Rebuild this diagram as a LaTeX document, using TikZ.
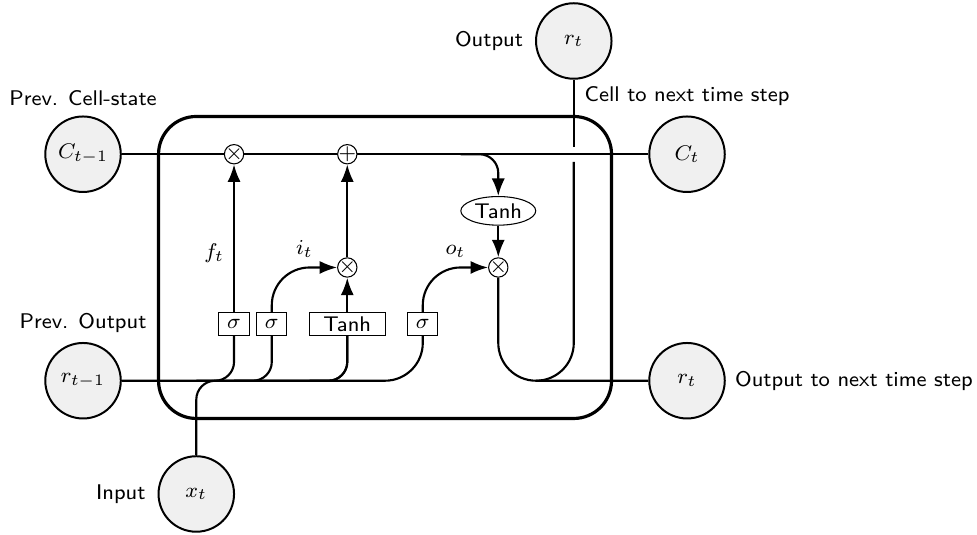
\documentclass[tikz,border=0pt]{standalone}
\usepackage{amsmath,amssymb}
\usepackage{xcolor}
\usepackage{tikz}
\usetikzlibrary{arrows.meta,positioning,shapes.geometric,calc}

\begin{document}
\begin{tikzpicture}[
  font=\footnotesize\sffamily,
  cellbox/.style={rectangle, draw, very thick, rounded corners=5mm,
                  minimum width=6cm, minimum height=4cm},
  gatebox/.style={rectangle, draw, minimum width=4mm, minimum height=3mm, inner sep=1pt},
  opnode/.style={circle, draw, inner sep=-0.5pt, minimum height=0.2cm},
  funcnode/.style={ellipse, draw, inner sep=1pt},
  statenode/.style={circle, draw, line width=0.75pt, fill=gray!12,
                    minimum width=1cm, inner sep=1pt},
  annot/.style={font=\footnotesize\sffamily},
  wire/.style={thick, rounded corners=0.25cm},
  wirebig/.style={thick, rounded corners=0.5cm},
  arr/.style={-{Latex}},
]
\useasboundingbox (-5.1,-3.543) rectangle (7.841,3.543);

% The cell
\node[cellbox] (cell) at (0,0) {};

% Gates
\node[gatebox] (sg1) at (-2,-0.75) {$\sigma$};
\node[gatebox] (sg2) at (-1.5,-0.75) {$\sigma$};
\node[gatebox, minimum width=1cm] (tanh1) at (-0.5,-0.75) {Tanh};
\node[gatebox] (sg4) at (0.5,-0.75) {$\sigma$};

% Operators
\node[opnode] (mux1) at (-2,1.5) {$\times$};
\node[opnode] (add1) at (-0.5,1.5) {$+$};
\node[opnode] (mux2) at (-0.5,0) {$\times$};
\node[opnode] (mux3) at (1.5,0) {$\times$};
\node[funcnode] (tanh2) at (1.5,0.75) {Tanh};

% Inputs and outputs
\node[statenode] (cprev) at (-4,1.5) {$C_{t-1}$};
\node[statenode] (rprev) at (-4,-1.5) {$r_{t-1}$};
\node[statenode] (xin) at (-2.5,-3) {$x_t$};
\node[statenode] (cnext) at (4,1.5) {$C_t$};
\node[statenode] (rnext) at (4,-1.5) {$r_t$};
\node[statenode] (rout) at (2.5,3) {$r_t$};

% Annotations
\node[annot, above=0pt of cprev] (lcprev) {Prev. Cell-state};
\node[annot, above=0pt of rprev] (lrprev) {Prev. Output};
\node[annot, left=1pt of xin] (lxin) {Input};
\node[annot, left=1pt of rout] (lrout) {Output};
\node[annot, above=0pt of cnext] (lcnext) {Cell to next time step};
\node[annot, right=0pt of rnext] (lrnext) {Output to next time step};

% Cell state line
\draw[wire] (cprev) -- (mux1) -- (add1) -- (cnext);

% Previous output and input
\draw[wirebig] (rprev) -| (sg4);
\draw[wire] ([xshift=-0.5cm]rprev -| sg1) -| (sg1);
\draw[wire] ([xshift=-0.5cm]rprev -| sg2) -| (sg2);
\draw[wire] ([xshift=-0.5cm]rprev -| tanh1) -| (tanh1);
\draw[wire] (xin) -- (xin |- rprev) -| (tanh1);

% Inside the cell
\draw[wirebig, arr] (sg1) -- node[left, pos=0.4] (ft) {$f_t$} (mux1);
\draw[wirebig, arr] (sg2) |- node[above, pos=0.75] (it) {$i_t$} (mux2);
\draw[wirebig, arr] (tanh1) -- (mux2);
\draw[wirebig, arr] (sg4) |- node[above, pos=0.75] (ot) {$o_t$} (mux3);
\draw[wirebig, arr] (mux2) -- (add1);
\draw[wire, arr] ([xshift=-0.5cm]add1 -| tanh2) -| (tanh2);
\draw[wirebig, arr] (tanh2) -- (mux3);

% Outputs
\draw[wirebig] (mux3) |- (rnext);
\coordinate (cross) at ([yshift=-0.1cm]cnext -| rout);
\draw[wirebig] ([xshift=-0.5cm]rnext -| rout) -| (cross);
\draw[wirebig] ([yshift=0.2cm]cross) -- (rout);

\end{tikzpicture}
\end{document}
